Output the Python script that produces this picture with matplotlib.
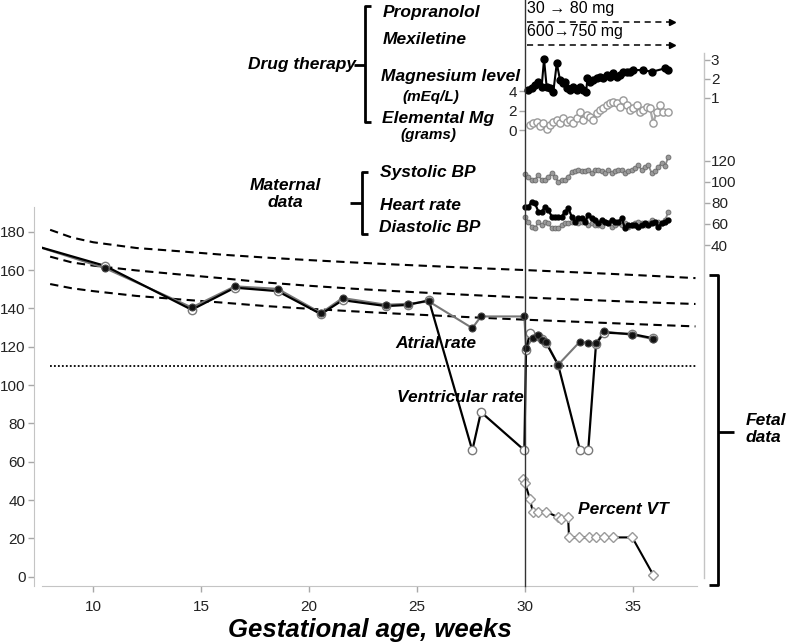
import matplotlib
matplotlib.use('Agg')
import matplotlib.pyplot as plt
from matplotlib.lines import Line2D
from matplotlib.transforms import blended_transform_factory

plt.rcParams['font.family'] = ['Liberation Sans', 'DejaVu Sans']

W, H = 788, 644


def fx(x):
    return x / W


def fy(y):
    return 1 - y / H


# ---------------- data (gestational age in weeks) ----------------
atrial_weeks = [7.3, 10.54, 14.56, 16.56, 18.54, 20.55, 21.55, 23.56, 24.57, 25.55, 27.56, 27.96,
                29.97, 30.05, 30.36, 30.59, 30.80, 30.97, 31.54, 32.55, 32.93, 33.29, 33.66, 34.97, 35.94]
atrial_rate = [172.7, 161, 140.5, 151.5, 150.2, 137.6, 145.4, 141.9, 142.4, 143.6, 129.7, 135.8,
               135.8, 119.3, 124.5, 126.2, 123.6, 122.7, 110.6, 122.7, 121.9, 121.9, 128.0, 126.2, 124.0]

vent_weeks = [7.3, 10.54, 14.56, 16.56, 18.54, 20.55, 21.55, 23.56, 24.57, 25.55, 27.56, 27.96,
              29.97, 30.05, 30.23, 30.59, 30.80, 30.97, 31.54, 32.55, 32.93, 33.29, 33.66, 34.97, 35.94]
vent_rate = [172.7, 162.2, 139.3, 150.8, 149.0, 137.0, 144.3, 141.2, 141.8, 144.2, 65.9, 85.9,
             66.0, 118.5, 127.1, 125.8, 123.8, 122.2, 110.4, 66.0, 66.0, 121.2, 127.4, 126.6, 124.4]

pct_weeks = [29.93, 30.00, 30.23, 30.36, 30.62, 30.97, 31.54, 31.65, 32.00, 32.04, 32.52, 32.98,
             33.29, 33.66, 34.06, 34.97, 35.94]
pct_vt = [51, 49, 40.5, 34, 34, 34, 31, 30, 31, 20.5, 20.5, 20.5, 20.5, 20.5, 20.5, 20.5, 1]

# reference percentile curves + bradycardia threshold
ref_weeks = [8, 9, 10, 12, 14, 16, 18, 20, 22, 24, 26, 28, 30, 32, 34, 36, 37.9]
ref_upper = [181, 177, 174.5, 171.5, 169.8, 168, 166.5, 165.2, 164, 162.9, 161.9, 160.9, 160, 159, 158, 156.9, 155.8]
ref_mid = [167, 164, 162.3, 159.8, 157.7, 155.7, 153.5, 151.8, 150.3, 149, 147.8, 146.7, 145.7, 144.8, 143.9, 143, 142.3]
ref_low = [152.7, 150.5, 149, 146.5, 144.7, 143, 141.2, 139.8, 138.5, 137.3, 136.2, 135.1, 134.1, 133.2, 132.3, 131.4, 130.6]
brady_line = 110

mg_weeks = [30.16, 30.31, 30.46, 30.62, 30.77, 30.88, 31.00, 31.16, 31.31, 31.47, 31.62, 31.75, 31.85,
            31.96, 32.09, 32.24, 32.40, 32.55, 32.70, 32.83, 32.89, 33.01, 33.16, 33.32, 33.47, 33.63,
            33.78, 33.94, 34.09, 34.25, 34.40, 34.56, 34.71, 34.87, 35.02, 35.48, 35.87, 36.49, 36.64]
mg_level = [1.42, 1.51, 1.68, 1.86, 1.60, 3.04, 1.60, 1.51, 1.33, 2.83, 1.95, 1.77, 1.86,
            1.51, 1.42, 1.60, 1.42, 1.60, 1.42, 1.33, 2.04, 1.86, 1.95, 2.04, 2.12, 2.04,
            2.21, 2.12, 2.30, 2.12, 2.21, 2.38, 2.38, 2.38, 2.47, 2.47, 2.38, 2.56, 2.47]

elem_weeks = [30.23, 30.39, 30.54, 30.69, 30.85, 31.00, 31.16, 31.31, 31.47, 31.62, 31.77, 31.93,
              32.08, 32.24, 32.39, 32.55, 32.70, 32.85, 33.01, 33.16, 33.32, 33.47, 33.62, 33.78,
              33.93, 34.09, 34.24, 34.40, 34.55, 34.70, 34.86, 35.01, 35.17, 35.32, 35.48, 35.63,
              35.79, 35.94, 36.09, 36.25, 36.40, 36.63]
elem_mg = [0.56, 0.80, 0.90, 0.46, 0.73, 0.12, 0.56, 0.90, 1.07, 0.73, 1.24, 0.90,
           1.07, 0.73, 1.24, 1.92, 1.07, 1.58, 1.41, 1.07, 1.75, 2.09, 2.26, 2.60,
           2.77, 2.94, 2.77, 2.43, 3.11, 2.60, 2.09, 2.26, 2.60, 1.92, 2.09, 2.43,
           2.26, 0.73, 1.92, 2.60, 1.92, 1.92]

bp_weeks = [30.00, 30.15, 30.31, 30.46, 30.62, 30.77, 30.93, 31.08, 31.24, 31.39, 31.54, 31.70,
            31.85, 32.01, 32.16, 32.32, 32.47, 32.62, 32.78, 32.93, 33.09, 33.24, 33.40, 33.55,
            33.71, 33.86, 34.01, 34.17, 34.32, 34.48, 34.63, 34.79, 34.94, 35.10, 35.25, 35.40,
            35.56, 35.71, 35.87, 36.02, 36.18, 36.33, 36.49, 36.64]
systolic = [107, 105, 102, 102, 106, 102, 102, 105, 108, 105, 100, 102, 102, 105, 109, 110, 111, 110,
            110, 111, 108, 111, 111, 110, 108, 111, 108, 110, 111, 111, 108, 110, 111, 113, 116, 111,
            114, 116, 108, 110, 114, 118, 115, 124]
heart_rate = [76.4, 76.4, 81.1, 79.5, 71.6, 71.6, 76.4, 73.2, 66.9, 66.9, 66.9, 66.9, 71.6, 74.8,
              66.9, 62.1, 65.3, 65.3, 62.1, 68.5, 65.3, 63.7, 60.5, 63.7, 62.1, 60.5, 63.7, 62.1,
              62.1, 65.3, 55.8, 59.0, 59.0, 59.0, 57.4, 59.0, 60.5, 59.0, 60.5, 62.1, 57.4, 60.5,
              62.1, 63.7]
diastolic = [66.9, 62.1, 57.4, 55.8, 62.1, 59.0, 62.1, 60.5, 55.8, 55.8, 55.8, 59.0, 60.5, 61.2,
             62.1, 63.7, 60.5, 62.1, 63.7, 59.0, 60.5, 59.0, 59.0, 58.0, 62.1, 60.5, 57.4, 59.0,
             60.5, 59.0, 60.5, 57.4, 59.0, 60.5, 62.1, 60.5, 59.0, 60.5, 63.7, 61.2, 62.1, 60.5,
             63.7, 71.6]

drug_start, drug_end = 30.08, 36.8
drug_doses = ['30 \u2192 80 mg', '600\u2192750 mg']

SPINE = '#c4c4c4'
TICK = '#a8a8a8'
LAB = '#222222'
lab_kw = dict(fontsize=12.5, fontweight='bold', fontstyle='italic', color='black')

fig = plt.figure(figsize=(W / 100, H / 100), dpi=100)

# ---------- fetal data (main axes) ----------
ax = fig.add_axes([fx(42), fy(586), (697 - 42) / W, (586 - 207) / H])
ax.set_xlim(7.623, 37.97)
ax.set_ylim(-4.85, 192.9)
for s in ['top', 'right']:
    ax.spines[s].set_visible(False)
ax.spines['left'].set_position(('outward', 5.8))
for s in ['left', 'bottom']:
    ax.spines[s].set_color(SPINE)
ax.set_yticks(range(0, 181, 20))
ax.set_xticks([10, 15, 20, 25, 30, 35])
ax.tick_params(axis='both', color=TICK, length=4, width=1, labelsize=11, labelcolor=LAB)
ax.tick_params(axis='x', pad=6)
ax.tick_params(axis='y', pad=2)

for ref in (ref_upper, ref_mid, ref_low):
    ax.plot(ref_weeks, ref, color='black', lw=1.5, ls=(0, (4, 2.6)), zorder=2)
ax.hlines(brady_line, 8.0, 37.95, color='black', lw=1.3, ls=(0, (1, 1.2)), zorder=2)

ax.plot(atrial_weeks, atrial_rate, color='#777777', lw=1.5, zorder=3)
ax.plot(vent_weeks, vent_rate, color='black', lw=1.6, zorder=4)
ax.plot(vent_weeks, vent_rate, ls='none', marker='o', ms=6, mfc='white', mec='#7a7a7a', mew=1, zorder=5)
ax.plot(atrial_weeks, atrial_rate, ls='none', marker='o', ms=5, mfc='#111111', mec='#444444', mew=0.8, zorder=6)

ax.plot(pct_weeks, pct_vt, color='black', lw=1.5, zorder=4)
ax.plot(pct_weeks, pct_vt, ls='none', marker='D', ms=5, mfc='white', mec='#9a9a9a', mew=1, zorder=5)

ax.set_xlabel('Gestational age, weeks', fontsize=18.5, fontweight='bold', fontstyle='italic', labelpad=3)

# ---------- maternal data (BP / heart rate) ----------
ax_bp = fig.add_axes([fx(42), fy(262), (704 - 42) / W, (262 - 150) / H])
ax_bp.set_xlim(7.623, 38.29)
ax_bp.set_ylim(23.9, 130.2)
ax_bp.patch.set_visible(False)
for s in ax_bp.spines.values():
    s.set_visible(False)
ax_bp.set_xticks([])
ax_bp.yaxis.tick_right()
ax_bp.set_yticks([40, 60, 80, 100, 120])
ax_bp.tick_params(axis='y', color=TICK, length=4, width=1, labelsize=11, labelcolor=LAB, pad=1)

ax_bp.plot(bp_weeks, systolic, color='#8a8a8a', lw=1.3, marker='o', ms=3.5, mfc='#9a9a9a', mec='#6a6a6a', mew=0.6)
ax_bp.plot(bp_weeks, diastolic, color='#8a8a8a', lw=1.3, marker='o', ms=3.5, mfc='#9a9a9a', mec='#6a6a6a', mew=0.6)
ax_bp.plot(bp_weeks, heart_rate, color='black', lw=1.6, marker='o', ms=3.5, mfc='black', mec='black')

# ---------- drug therapy (magnesium) ----------
ax_mg = fig.add_axes([fx(42), fy(150), (704 - 42) / W, (150 - 53) / H])
ax_mg.set_xlim(7.623, 38.29)
ax_mg.set_ylim(-1.985, 7.888)
ax_mg.patch.set_visible(False)
for s in ax_mg.spines.values():
    s.set_visible(False)
ax_mg.spines['left'].set_position(('data', 30))
ax_mg.set_xticks([])
ax_mg.set_yticks([0, 2, 4])
ax_mg.tick_params(axis='y', color=TICK, length=4, width=1, labelsize=11, labelcolor=LAB, pad=2)

ax_mg2 = ax_mg.twinx()
ax_mg2.set_ylim(-1.737, 3.368)
for s in ax_mg2.spines.values():
    s.set_visible(False)
ax_mg2.set_yticks([1, 2, 3])
ax_mg2.tick_params(axis='y', color=TICK, length=4, width=1, labelsize=11, labelcolor=LAB, pad=1)

ax_mg.plot(elem_weeks, elem_mg, color='#a8a8a8', lw=1.6, marker='o', ms=5.2, mfc='white', mec='#999999', mew=1)
ax_mg2.plot(mg_weeks, mg_level, color='black', lw=1.5, marker='o', ms=5, mfc='black', mec='black')

# drug arrows (propranolol, mexiletine)
trans = blended_transform_factory(ax_mg.transData, fig.transFigure)
for y_px, txt in zip([21.7, 44.5], drug_doses):
    ax_mg.plot([drug_start, drug_end - 0.15], [fy(y_px)] * 2, transform=trans, clip_on=False,
               color='black', lw=1.1, ls=(0, (4, 3)))
    ax_mg.plot([drug_end], [fy(y_px)], transform=trans, clip_on=False, ls='none',
               marker='>', ms=5, color='black')
    ax_mg.text(drug_start, fy(y_px - 13), txt, transform=trans, fontsize=11.5, va='center', ha='left')

# week-30 vertical line and right grey axis line
vtrans = blended_transform_factory(ax.transData, fig.transFigure)
fig.add_artist(Line2D([30, 30], [fy(586), 1.0], transform=vtrans, color='#333333', lw=1.0, zorder=10))
fig.add_artist(Line2D([fx(704), fx(704)], [fy(578), fy(53)], color=SPINE, lw=1.0))


# ---------- brackets ----------
def bracket(x, y0, y1, ymid, serif, tick):
    kw = dict(color='black', lw=2.0, solid_capstyle='butt')
    fig.add_artist(Line2D([fx(x + serif), fx(x), fx(x), fx(x + serif)], [fy(y0), fy(y0), fy(y1), fy(y1)], **kw))
    fig.add_artist(Line2D([fx(x), fx(x + tick)], [fy(ymid), fy(ymid)], **kw))


bracket(365, 6, 122, 65, 6, -11)
bracket(362, 172, 234, 203, 6, -12)
bracket(718, 275, 585, 432, -9, 16)

# ---------- labels ----------
fig.text(fx(248), fy(64), 'Drug therapy', ha='left', va='center', **lab_kw)
fig.text(fx(383), fy(13), 'Propranolol', ha='left', va='center', **lab_kw)
fig.text(fx(383), fy(40), 'Mexiletine', ha='left', va='center', **lab_kw)
fig.text(fx(381), fy(77), 'Magnesium level', ha='left', va='center', **lab_kw)
fig.text(fx(402), fy(97), '(mEq/L)', ha='left', va='center', fontsize=11, fontweight='bold', fontstyle='italic')
fig.text(fx(382), fy(118), 'Elemental Mg', ha='left', va='center', **lab_kw)
fig.text(fx(400), fy(135), '(grams)', ha='left', va='center', fontsize=11, fontweight='bold', fontstyle='italic')

fig.text(fx(285), fy(194), 'Maternal\ndata', ha='center', va='center', linespacing=1.15, **lab_kw)
fig.text(fx(380), fy(173), 'Systolic BP', ha='left', va='center', **lab_kw)
fig.text(fx(380), fy(205), 'Heart rate', ha='left', va='center', **lab_kw)
fig.text(fx(379), fy(228), 'Diastolic BP', ha='left', va='center', **lab_kw)

fig.text(fx(746), fy(429), 'Fetal\ndata', ha='left', va='center', linespacing=1.15, **lab_kw)
fig.text(fx(395), fy(343), 'Atrial rate', ha='left', va='center', **lab_kw)
fig.text(fx(397), fy(397), 'Ventricular rate', ha='left', va='center', **lab_kw)
fig.text(fx(578), fy(509), 'Percent VT', ha='left', va='center', **lab_kw)

fig.savefig('out.png', dpi=100)
